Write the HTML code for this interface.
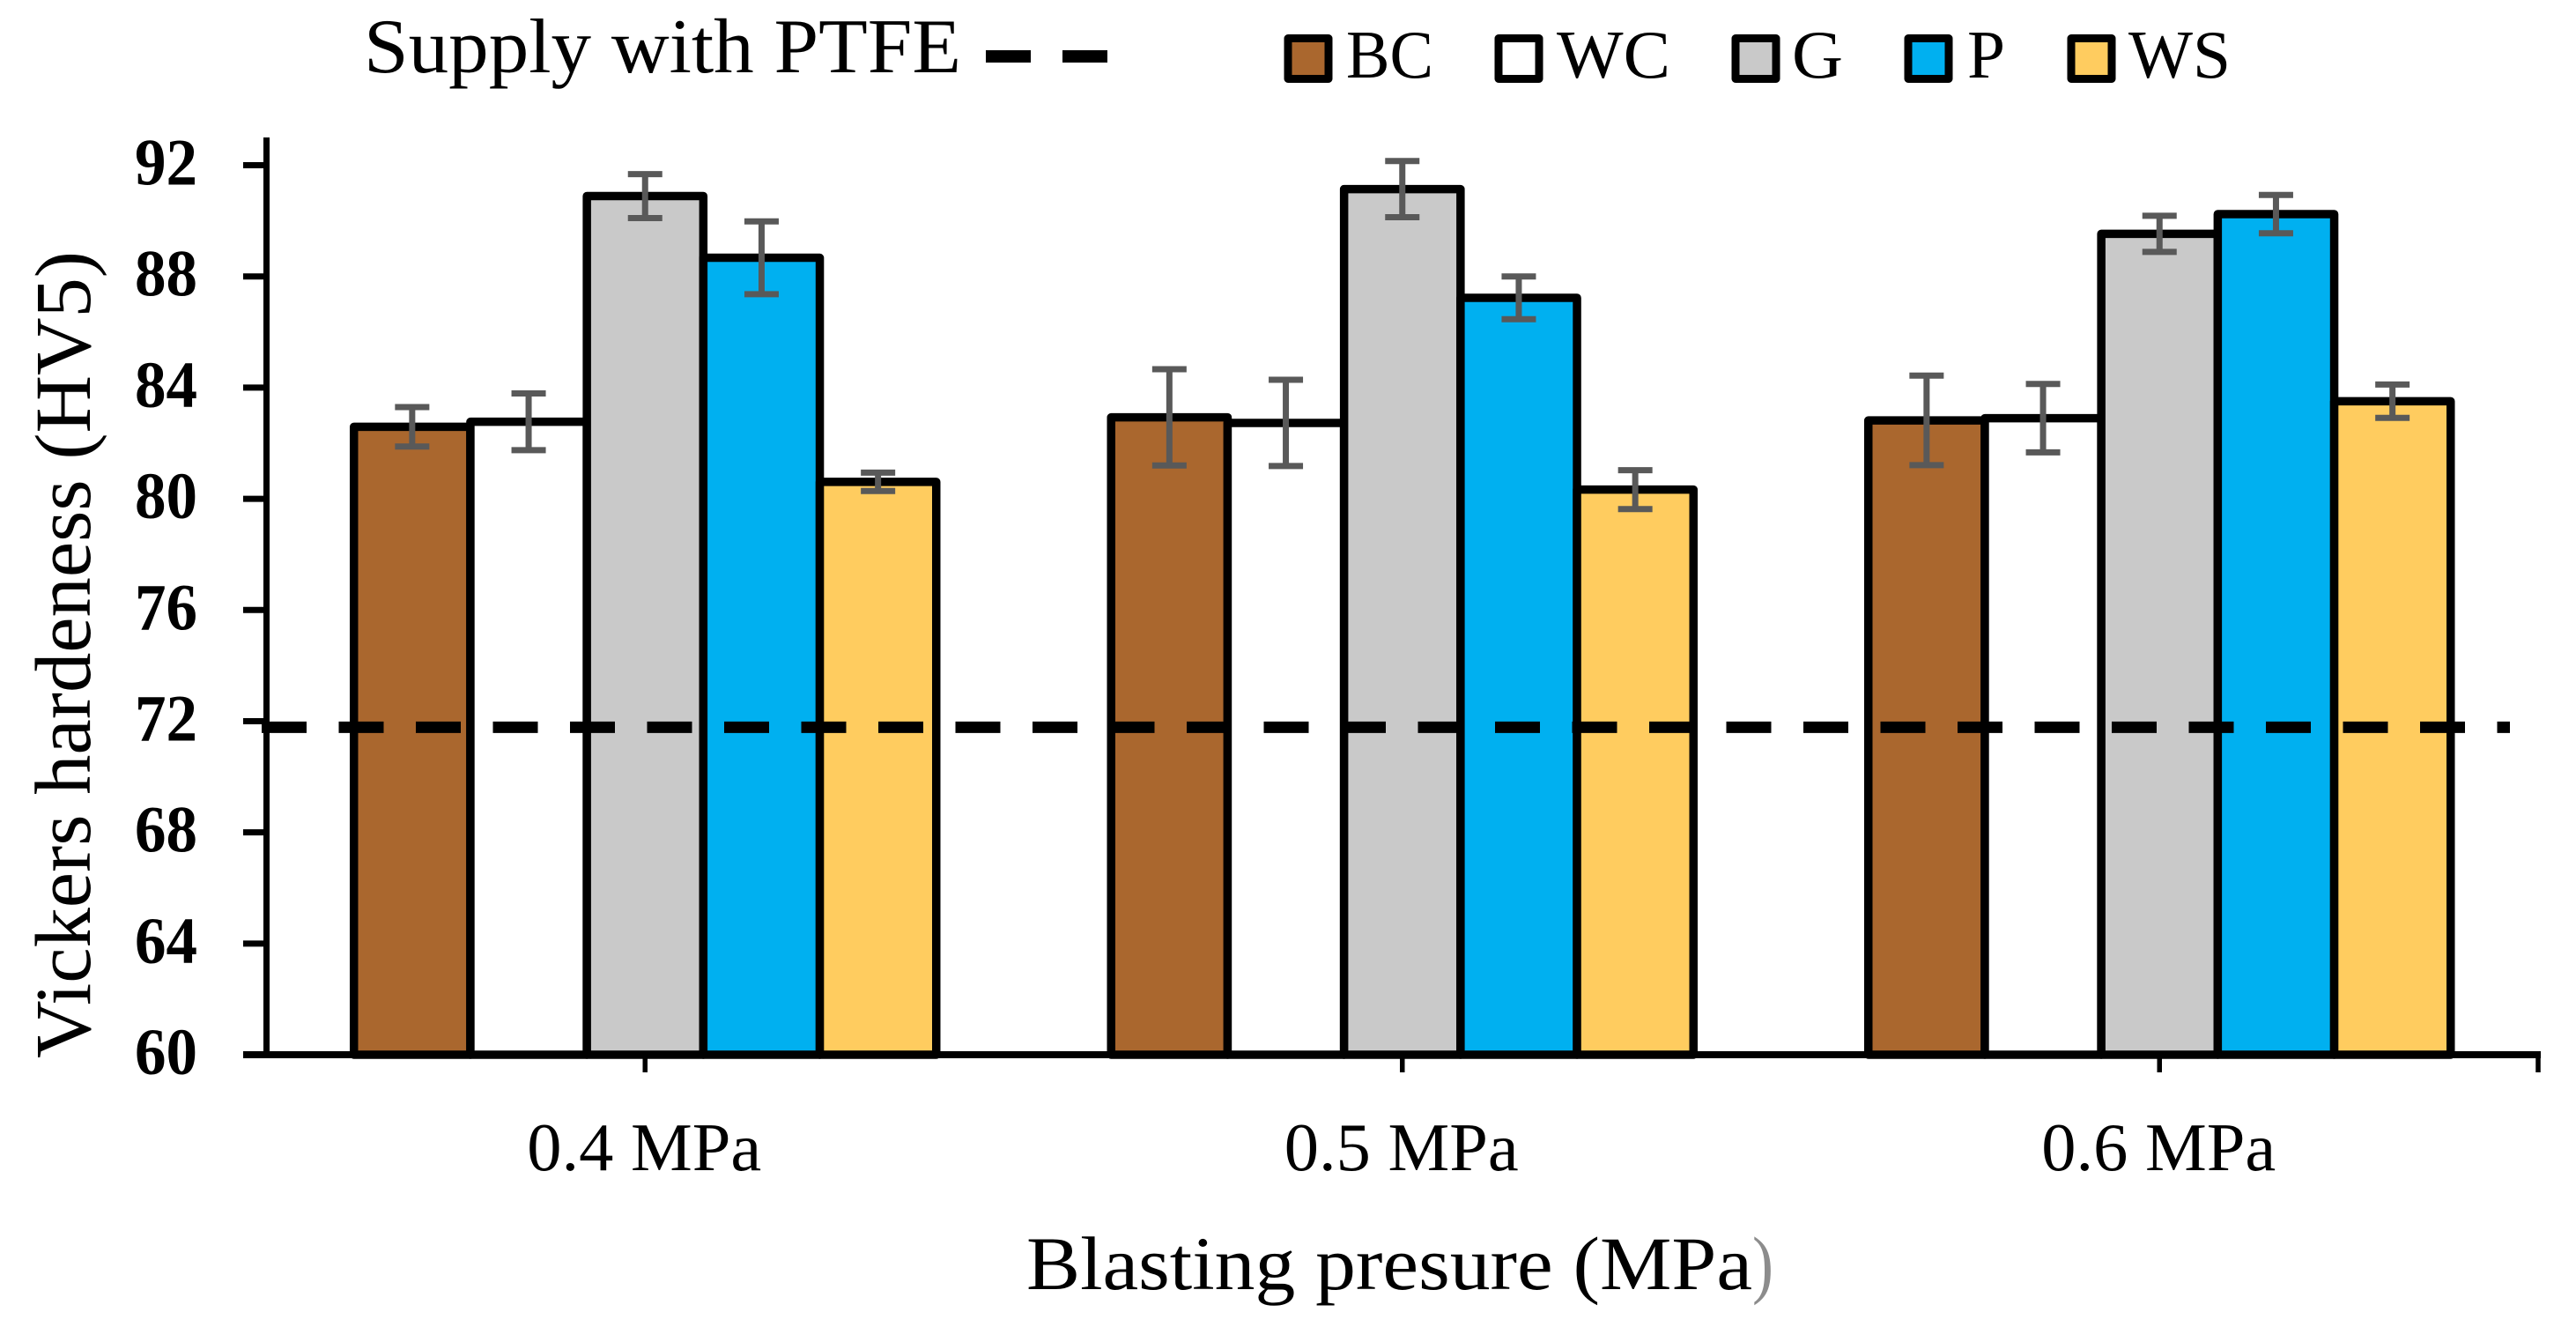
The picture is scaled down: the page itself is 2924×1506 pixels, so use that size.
<!DOCTYPE html>
<html lang="en">
<head>
<meta charset="utf-8">
<title>Vickers hardeness vs blasting pressure</title>
<style>
html,body{margin:0;padding:0;background:#fff;}
svg{display:block;}
text{font-family:"Liberation Serif",serif;fill:#000;}
</style>
</head>
<body>
<svg id="chart" xmlns="http://www.w3.org/2000/svg" width="2924" height="1506" viewBox="0 0 2924 1506">
  <rect x="0" y="0" width="2924" height="1506" fill="#fff"/>
  <g id="plot"></g>

  <g>
    <text x="413" y="82" font-size="88" textLength="678" lengthAdjust="spacingAndGlyphs">Supply with PTFE</text>
    <line x1="1119" y1="64" x2="1257" y2="64" stroke="#000" stroke-width="14" stroke-dasharray="51 36"/>

    <g>
      <rect x="1462" y="43.5" width="46" height="46" fill="#AA672E" stroke="#000" stroke-width="9" stroke-linejoin="round"/>
      <text x="1528" y="88" font-size="77" textLength="99" lengthAdjust="spacingAndGlyphs">BC</text>
    </g>
    <g>
      <rect x="1701" y="43.5" width="46" height="46" fill="#fff" stroke="#000" stroke-width="9" stroke-linejoin="round"/>
      <text x="1767" y="88" font-size="77" textLength="129" lengthAdjust="spacingAndGlyphs">WC</text>
    </g>
    <g>
      <rect x="1970" y="43.5" width="46" height="46" fill="#C9C9C9" stroke="#000" stroke-width="9" stroke-linejoin="round"/>
      <text x="2034" y="88" font-size="77" textLength="58" lengthAdjust="spacingAndGlyphs">G</text>
    </g>
    <g>
      <rect x="2166" y="43.5" width="46" height="46" fill="#00B0F0" stroke="#000" stroke-width="9" stroke-linejoin="round"/>
      <text x="2233" y="88" font-size="77" textLength="43" lengthAdjust="spacingAndGlyphs">P</text>
    </g>
    <g>
      <rect x="2351" y="43.5" width="46" height="46" fill="#FFCC5F" stroke="#000" stroke-width="9" stroke-linejoin="round"/>
      <text x="2416" y="88" font-size="77" textLength="116" lengthAdjust="spacingAndGlyphs">WS</text>
    </g>
  </g>

  <text transform="translate(102,1201) rotate(-90)" x="0" y="0" font-size="90" textLength="916" lengthAdjust="spacingAndGlyphs">Vickers hardeness (HV5)</text>
  <g>
    <text x="1165" y="1463" font-size="86" textLength="824" lengthAdjust="spacingAndGlyphs">Blasting presure (MPa</text>
    <text x="1989" y="1463" font-size="86" textLength="24" lengthAdjust="spacingAndGlyphs" style="fill:#8c8c8c">)</text>
  </g>
</svg>

<script>
const categories = ["0.4 MPa", "0.5 MPa", "0.6 MPa"];
const seriesNames = ["BC", "WC", "G", "P", "WS"];
const valuesBC = [82.59, 82.93, 82.82];
const valuesWC = [82.77, 82.73, 82.90];
const valuesG = [90.89, 91.14, 89.53];
const valuesP = [88.67, 87.23, 90.24];
const valuesWS = [80.61, 80.33, 83.51];
const errorsBC = [0.71, 1.73, 1.61];
const errorsWC = [1.02, 1.55, 1.23];
const errorsG = [0.79, 1.01, 0.65];
const errorsP = [1.31, 0.77, 0.69];
const errorsWS = [0.33, 0.70, 0.60];
const yTickValues = [60, 64, 68, 72, 76, 80, 84, 88, 92];
const supplyWithPTFE = [71.78];

const seriesValues = [valuesBC, valuesWC, valuesG, valuesP, valuesWS];
const seriesErrors = [errorsBC, errorsWC, errorsG, errorsP, errorsWS];
const seriesFills = ["#AA672E", "#FFFFFF", "#C9C9C9", "#00B0F0", "#FFCC5F"];

const NS = "http://www.w3.org/2000/svg";
const plot = document.getElementById("plot");

const axisLeft = 302.5, axisRight = 2881, y60 = 1197, y92 = 187.5;
const barWidth = 132.2;

function yScale(v) {
  return y60 - (v - 60) * (y60 - y92) / (92 - 60);
}
function categoryCenter(i) {
  return axisLeft + (axisRight - axisLeft) * (i + 0.5) / categories.length;
}
function barLeft(c, s) {
  return categoryCenter(c) + (s - seriesNames.length / 2) * barWidth;
}
function make(tag, attrs) {
  const el = document.createElementNS(NS, tag);
  for (const k in attrs) el.setAttribute(k, attrs[k]);
  plot.appendChild(el);
  return el;
}

seriesNames.forEach(function (name, s) {
  categories.forEach(function (cat, c) {
    const top = yScale(seriesValues[s][c]);
    const bar = make("rect", {
      x: barLeft(c, s), y: top, width: barWidth, height: y60 - top,
      fill: seriesFills[s], stroke: "#000", "stroke-width": 9.5, "stroke-linejoin": "round"
    });
    
    
  });
});

const supplyLine = make("line", {
  x1: 297, x2: 2849, y1: yScale(supplyWithPTFE[0]), y2: yScale(supplyWithPTFE[0]),
  stroke: "#000", "stroke-width": 13, "stroke-dasharray": "51 36.5"
});



seriesNames.forEach(function (name, s) {
  categories.forEach(function (cat, c) {
    const cx = barLeft(c, s) + barWidth / 2;
    const hi = yScale(seriesValues[s][c] + seriesErrors[s][c]);
    const lo = yScale(seriesValues[s][c] - seriesErrors[s][c]);
    const d = "M" + (cx - 19.5) + " " + hi + "H" + (cx + 19.5) +
              "M" + cx + " " + hi + "V" + lo +
              "M" + (cx - 19.5) + " " + lo + "H" + (cx + 19.5);
    const err = make("path", { d: d, fill: "none", stroke: "#595959", "stroke-width": 7 });
    
    
  });
});

const yAxisLine = make("line", { x1: axisLeft, x2: axisLeft, y1: 156, y2: y60, stroke: "#000", "stroke-width": 7 });



const xAxisLine = make("line", { x1: 276, x2: axisRight + 3, y1: y60, y2: y60, stroke: "#000", "stroke-width": 8 });



yTickValues.forEach(function (v) {
  const y = yScale(v);
  const tick = make("line", { x1: 276, x2: axisLeft, y1: y, y2: y, stroke: "#000", "stroke-width": 7 });
  
  
  const label = make("text", {
    x: 153, y: y + 22, "font-size": 75, "font-weight": "bold",
    textLength: 71, lengthAdjust: "spacingAndGlyphs"
  });
  label.textContent = String(v);
  
  
});

categories.forEach(function (cat, c) {
  const cx = categoryCenter(c);
  const tick = make("line", { x1: cx, x2: cx, y1: y60, y2: 1217, stroke: "#000", "stroke-width": 5.5 });
  
  
  const label = make("text", {
    x: cx - 134, y: 1328, "font-size": 77,
    textLength: 266, lengthAdjust: "spacingAndGlyphs"
  });
  label.textContent = cat;
  
  
});

const xEndTick = make("line", { x1: axisRight, x2: axisRight, y1: y60, y2: 1217, stroke: "#000", "stroke-width": 5.5 });


</script>
</body>
</html>
